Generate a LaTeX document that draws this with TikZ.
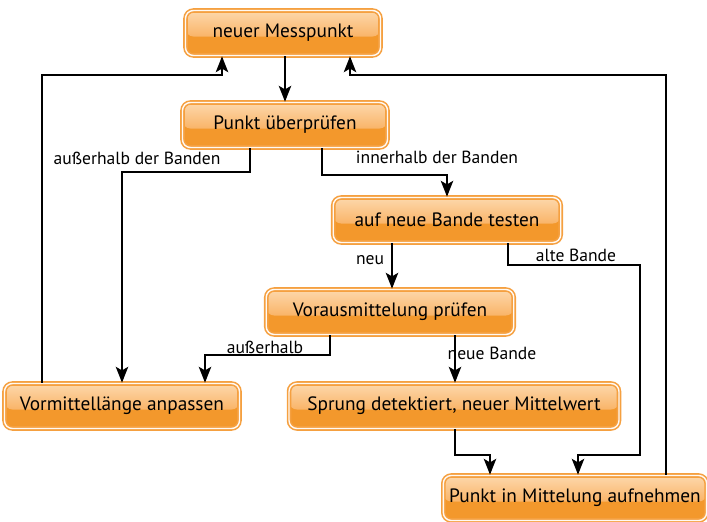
\documentclass[tikz,border=0pt]{standalone}
\usepackage{fontspec}
\setmainfont{PT Sans}
\usetikzlibrary{arrows.meta}
\definecolor{boxedge}{HTML}{F5A040}
\definecolor{boxtop}{HTML}{FDD8AC}
\definecolor{boxmid}{HTML}{F9B468}
\definecolor{boxbot}{HTML}{F3982C}
\tikzset{
  kasten/.style={draw=boxedge, double=white!85!boxtop, double distance=0.8pt, line width=0.9pt,
    rounded corners=4.5pt, minimum height=0.9cm, font=\fontsize{11}{13}\selectfont,
    path picture={
      \fill[boxbot] (path picture bounding box.south west) rectangle (path picture bounding box.north east);
      \shade[top color=boxtop, bottom color=boxmid] (path picture bounding box.north west) rectangle ([yshift=-2pt]path picture bounding box.east);
    }},
  pfeil/.style={line width=1.3pt, -{Stealth[length=9pt,width=7pt,inset=2pt]}},
  lbl/.style={font=\fontsize{10}{12}\selectfont}
}
\begin{document}
\begin{tikzpicture}[x=0.02cm, y=-0.02cm]
\useasboundingbox (0,0) rectangle (707,521);
%% boxes
\node[kasten, minimum width=3.9cm] (neu) at (283,33) {neuer Messpunkt};
\node[kasten, minimum width=4.1cm] (chk) at (285,125) {Punkt überprüfen};
\node[kasten, minimum width=4.55cm] (bnd) at (447,220) {auf neue Bande testen};
\node[kasten, minimum width=4.95cm] (vor) at (390,312) {Vorausmittelung prüfen};
\node[kasten, minimum width=4.7cm] (adj) at (122,406) {Vormittellänge anpassen};
\node[kasten, minimum width=6.6cm] (spr) at (454,406) {Sprung detektiert, neuer Mittelwert};
\node[kasten, minimum width=5.2cm] (auf) at (575,498) {Punkt in Mittelung aufnehmen};
%% labels
\node[lbl] (l1) at (137,158) {außerhalb der Banden};
\node[lbl] (l2) at (437,157) {innerhalb der Banden};
\node[lbl] (l3) at (370,260) {neu};
\node[lbl] (l4) at (576,255) {alte Bande};
\node[lbl] (l5) at (265,347) {außerhalb};
\node[lbl] (l6) at (492,353) {neue Bande};
%% arrows
\draw[pfeil] (neu.south -| 285,0) -- (chk.north -| 285,0);
\draw[pfeil] (chk.south -| 250,0) -- (250,172) -| (adj.north);
\draw[pfeil] (chk.south -| 322,0) -- (322,175) -| (bnd.north);
\draw[pfeil] (bnd.south -| 392,0) -- (vor.north -| 392,0);
\draw[pfeil] (bnd.south -| 508,0) |- (640,265) |- (578,455) -- (auf.north -| 578,0);
\draw[pfeil] (vor.south -| 330,0) -- (330,355) -| (adj.north -| 205,0);
\draw[pfeil] (vor.south -| 455,0) -- (spr.north -| 455,0);
\draw[pfeil] (spr.south -| 455,0) -- (455,455) -| (auf.north -| 490,0);
\draw[pfeil] (adj.north -| 42,0) |- (222,75) -- (neu.south -| 222,0);
\draw[pfeil] (auf.north -| 666,0) |- (350,75) -- (neu.south -| 350,0);
\end{tikzpicture}
\end{document}
